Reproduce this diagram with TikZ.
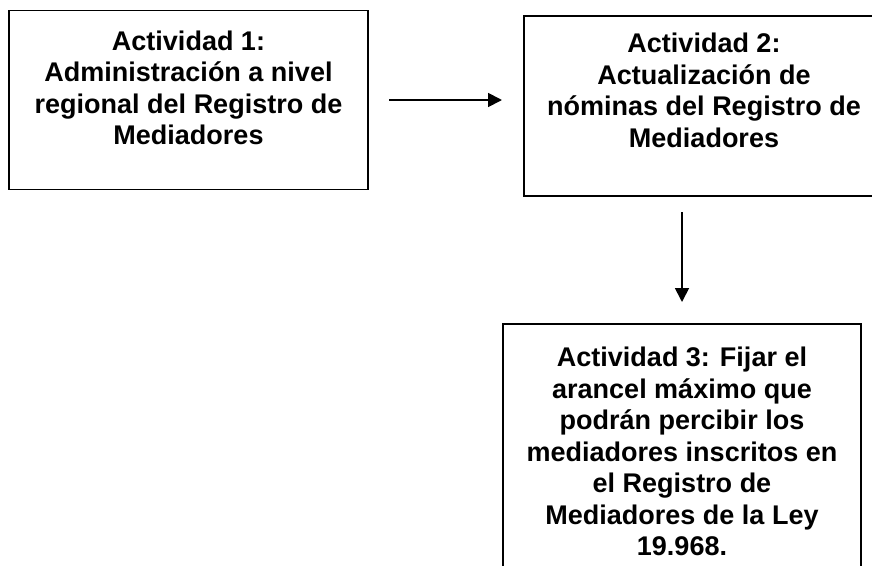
\documentclass[tikz,border=0pt]{standalone}
\usepackage{fontspec}
\setmainfont{Liberation Sans}
\usetikzlibrary{arrows.meta}
\begin{document}
\begin{tikzpicture}[x=1pt,y=-1pt,
  box/.style={draw=black, line width=1.8pt, inner sep=0pt, outer sep=0pt},
  boxtext/.style={anchor=north, align=center, inner sep=0pt, font=\fontsize{27}{31.5}\selectfont\bfseries},
  arr/.style={line width=1.8pt, -{Triangle[length=14pt,width=14pt]}}]
\useasboundingbox (0,0) rectangle (872,565);
\clip (0,0) rectangle (872,565);
\node[box, minimum width=359pt, minimum height=179pt] (b1) at (188.5,100) {};
\node[box, minimum width=360pt, minimum height=180pt] (b2) at (704,106) {};
\node[box, minimum width=358pt, minimum height=276pt] (b3) at (682,462) {};
\node[boxtext] (t1) at ([yshift=-20pt]b1.north) {Actividad 1:\\Administración a nivel\\regional del Registro de\\Mediadores};
\node[boxtext] (t2) at ([yshift=-17pt]b2.north) {Actividad 2:\\Actualización de\\nóminas del Registro de\\Mediadores};
\node[boxtext] (t3) at ([yshift=-23pt]b3.north) {Actividad 3: Fijar el\\arancel máximo que\\podrán percibir los\\mediadores inscritos en\\el Registro de\\Mediadores de la Ley\\19.968.};
\draw[arr, shorten <=21pt, shorten >=22pt] (b1.east) -- (b1.east -| b2.west);
\draw[arr, shorten <=16pt, shorten >=22pt] (b3.north |- b2.south) -- (b3.north);
\end{tikzpicture}
\end{document}
